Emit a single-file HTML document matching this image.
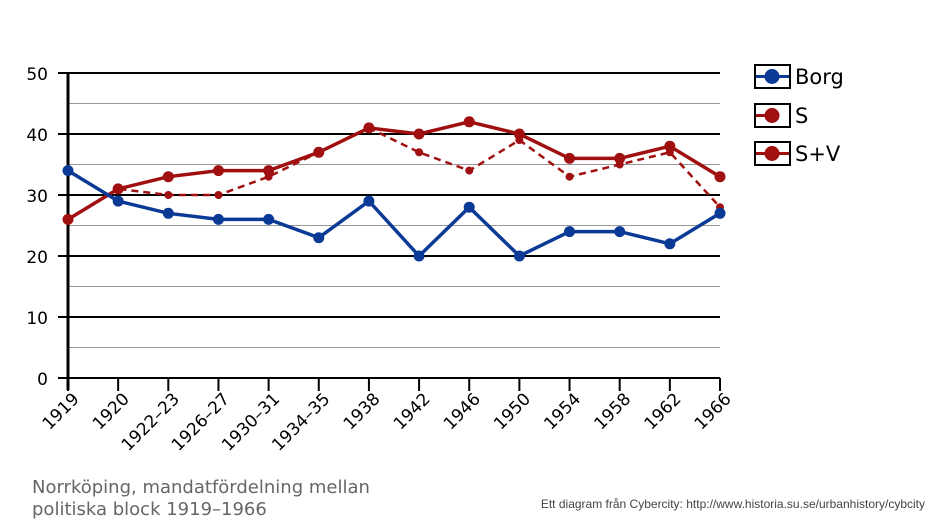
<!DOCTYPE html>
<html><head><meta charset="utf-8"><style>body{margin:0;background:#fff}svg{display:block}text{font-family:"DejaVu Sans","Liberation Sans",sans-serif}</style></head><body>
<svg width="938" height="521" viewBox="0 0 938 521" xmlns="http://www.w3.org/2000/svg">
<g stroke="#999" stroke-width="1">
<line x1="68" x2="720" y1="103.5" y2="103.5"/><line x1="68" x2="720" y1="164.5" y2="164.5"/><line x1="68" x2="720" y1="225.5" y2="225.5"/><line x1="68" x2="720" y1="286.5" y2="286.5"/><line x1="68" x2="720" y1="347.5" y2="347.5"/>
</g>
<g stroke="#000" stroke-width="2">
<line x1="58" x2="720" y1="73" y2="73"/><line x1="58" x2="720" y1="134" y2="134"/><line x1="58" x2="720" y1="195" y2="195"/><line x1="58" x2="720" y1="256" y2="256"/><line x1="58" x2="720" y1="317" y2="317"/><line x1="58" x2="720" y1="378" y2="378"/>
<line x1="68" x2="68" y1="72" y2="390" stroke-width="3"/>
</g>
<g stroke="#000" stroke-width="2" id="ticks"></g>
<g font-size="17" text-anchor="end" fill="#000">
<text x="48" y="80">50</text><text x="48" y="141">40</text><text x="48" y="202">30</text><text x="48" y="263">20</text><text x="48" y="324">10</text><text x="48" y="385">0</text>
</g>
<g id="xl" font-size="17" text-anchor="end"></g>
<g id="series"></g>
<g font-size="21">
<rect x="755" y="65" width="35" height="23" fill="#fff" stroke="#000" stroke-width="2"/><line x1="756" x2="789" y1="76.5" y2="76.5" stroke="#0a3a96" stroke-width="3"/><circle cx="772" cy="76.5" r="7.5" fill="#0a3a96"/><text x="795" y="84">Borg</text>
<rect x="755" y="104" width="35" height="23" fill="#fff" stroke="#000" stroke-width="2"/><line x1="756" x2="772" y1="115.5" y2="115.5" stroke="#a01010" stroke-width="3"/><circle cx="772" cy="115.5" r="7.5" fill="#a01010"/><text x="795" y="123">S</text>
<rect x="755" y="142" width="35" height="23" fill="#fff" stroke="#000" stroke-width="2"/><line x1="756" x2="789" y1="153.5" y2="153.5" stroke="#a01010" stroke-width="3"/><circle cx="772" cy="153.5" r="7.5" fill="#a01010"/><text x="795" y="161">S+V</text>
</g>
<text x="32" y="493" font-size="18" fill="#666">Norrköping, mandatfördelning mellan</text>
<text x="32" y="515" font-size="18" fill="#666">politiska block 1919–1966</text>
<text x="925" y="508" font-size="12" fill="#444" text-anchor="end" style="font-family:'Liberation Sans',sans-serif">Ett diagram från Cybercity: http://www.historia.su.se/urbanhistory/cybcity</text>
</svg>
<script>
var ns="http://www.w3.org/2000/svg",labs=["1919","1920","1922–23","1926–27","1930–31","1934–35","1938","1942","1946","1950","1954","1958","1962","1966"];
function X(i){return 68+i*(652/13)}function Y(v){return 378-v*6.1}
function el(t,a,p){var e=document.createElementNS(ns,t);for(var k in a)e.setAttribute(k,a[k]);document.getElementById(p).appendChild(e);return e}
labs.forEach(function(l,i){el("line",{x1:X(i),x2:X(i),y1:378,y2:391},"ticks");var t=el("text",{transform:"translate("+(X(i)+12)+",400) rotate(-45)"},"xl");t.textContent=l;});
var borg=[34,29,27,26,26,23,29,20,28,20,24,24,22,27],s=[26,31,30,30,33,37,41,37,34,39,33,35,37,28],sv=[26,31,33,34,34,37,41,40,42,40,36,36,38,33];
function draw(d,c,w,r,dash){el("polyline",{points:d.map(function(v,i){return X(i)+","+Y(v)}).join(" "),fill:"none",stroke:c,"stroke-width":w,"stroke-dasharray":dash||"none"},"series");d.forEach(function(v,i){el("circle",{cx:X(i),cy:Y(v),r:r,fill:c},"series")})}
draw(s,"#a01010",2.5,4,"7,5");draw(sv,"#a01010",3.5,5.5);draw(borg,"#0a3a96",3.5,5.5);
</script>
</body></html>
